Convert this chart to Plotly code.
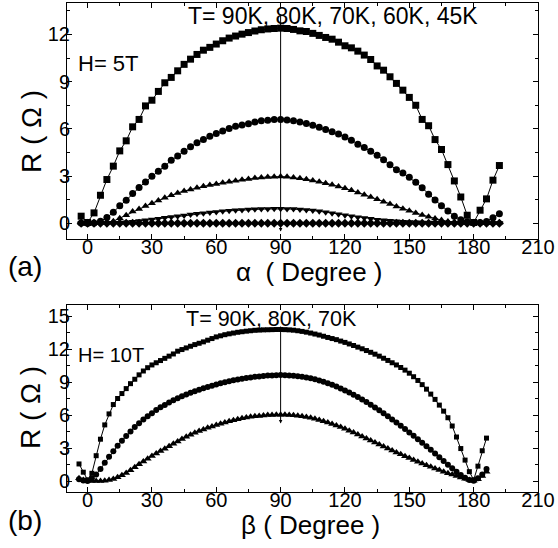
import plotly.graph_objects as go

# ---------------- data: panel (a), H = 5 T ----------------
alpha = list(range(-3, 193, 3))  # measurement angles, degrees

R_90K_a = [0.45, 0.05, 0.66, 1.78, 2.78, 3.63, 4.6, 5.24, 6.13, 6.6, 7.46, 7.82, 8.38, 8.93, 9.27, 9.69,
           10.1, 10.43, 10.73, 11.0, 11.18, 11.39, 11.6, 11.77, 11.9, 12.02, 12.12, 12.22, 12.3, 12.35,
           12.38, 12.4, 12.38, 12.32, 12.23, 12.19, 12.07, 11.94, 11.81, 11.7, 11.51, 11.28, 11.15,
           10.94, 10.69, 10.41, 10.0, 9.73, 9.31, 8.89, 8.46, 8.0, 7.5, 6.6, 6.2, 5.32, 4.69, 3.73,
           2.69, 1.67, 0.51, 0.05, 0.83, 1.55, 2.74, 3.67]
R_80K_a = [0.02, 0.0, 0.02, 0.13, 0.36, 0.7, 1.12, 1.46, 1.89, 2.27, 2.63, 2.99, 3.31, 3.63, 4.0, 4.28,
           4.58, 4.86, 5.11, 5.32, 5.53, 5.7, 5.87, 6.02, 6.17, 6.25, 6.32, 6.43, 6.51, 6.55, 6.6, 6.6,
           6.57, 6.51, 6.43, 6.34, 6.23, 6.11, 5.96, 5.81, 5.68, 5.49, 5.28, 5.02, 4.81, 4.58, 4.32,
           4.04, 3.72, 3.4, 3.2, 2.92, 2.6, 2.25, 1.85, 1.48, 1.12, 0.78, 0.45, 0.22, 0.1, 0.05, 0.05,
           0.12, 0.35, 0.6]
R_70K_a = [0.0, 0.0, 0.0, 0.02, 0.06, 0.13, 0.32, 0.51, 0.74, 0.91, 1.1, 1.27, 1.44, 1.62, 1.78, 1.93,
           2.05, 2.15, 2.25, 2.35, 2.43, 2.5, 2.58, 2.64, 2.7, 2.76, 2.82, 2.87, 2.91, 2.94, 2.96, 2.97,
           2.95, 2.91, 2.86, 2.79, 2.72, 2.64, 2.55, 2.45, 2.34, 2.22, 2.1, 1.96, 1.82, 1.67, 1.52,
           1.37, 1.22, 1.06, 0.92, 0.79, 0.66, 0.53, 0.41, 0.3, 0.2, 0.12, 0.07, 0.04, 0.02, 0.01,
           0.01, 0.02, 0.03, 0.05]
R_60K_a = [0.0, 0.0, 0.0, 0.0, 0.01, 0.02, 0.04, 0.07, 0.1, 0.14, 0.19, 0.24, 0.29, 0.35, 0.4, 0.45,
           0.5, 0.55, 0.6, 0.64, 0.68, 0.72, 0.76, 0.79, 0.82, 0.85, 0.87, 0.89, 0.9, 0.91, 0.92, 0.92,
           0.91, 0.9, 0.88, 0.85, 0.81, 0.76, 0.7, 0.64, 0.57, 0.51, 0.45, 0.39, 0.33, 0.28, 0.23,
           0.19, 0.16, 0.13, 0.1, 0.08, 0.06, 0.05, 0.04, 0.03, 0.03, 0.02, 0.02, 0.02, 0.02, 0.02,
           0.02, 0.02, 0.02, 0.02]
R_45K_a = [0.0, 0.0, 0.0, 0.0, 0.0, 0.0, 0.0, 0.0, 0.0, 0.0, 0.0, 0.0, 0.0, 0.0, 0.0, 0.0,
           0.0, 0.0, 0.0, 0.0, 0.0, 0.0, 0.0, 0.0, 0.0, 0.0, 0.0, 0.0, 0.0, 0.0, 0.0, 0.0,
           0.0, 0.0, 0.0, 0.0, 0.0, 0.0, 0.0, 0.0, 0.0, 0.0, 0.0, 0.0, 0.0, 0.0, 0.0,
           0.0, 0.0, 0.0, 0.0, 0.0, 0.0, 0.0, 0.0, 0.0, 0.0, 0.0, 0.0, 0.0, 0.0, 0.0,
           0.0, 0.0, 0.0, 0.0]

# ---------------- data: panel (b), H = 10 T ----------------
beta = list(range(-4, 187, 2))  # measurement angles, degrees

R_90K_b = [1.55, 0.8, 0.1, 0.7, 2.3, 3.8, 5.1, 6.1, 6.95, 7.5,
           7.95, 8.4, 8.85, 9.25, 9.65, 10.0, 10.3, 10.55, 10.75, 10.95,
           11.15, 11.35, 11.55, 11.8, 11.95, 12.1, 12.25, 12.4, 12.52, 12.65,
           12.8, 12.95, 13.1, 13.2, 13.3, 13.38, 13.45, 13.52, 13.57, 13.62,
           13.66, 13.7, 13.72, 13.74, 13.75, 13.76, 13.77, 13.77, 13.76, 13.74,
           13.71, 13.66, 13.6, 13.53, 13.45, 13.36, 13.27, 13.16, 13.05, 12.95,
           12.85, 12.72, 12.6, 12.46, 12.32, 12.17, 12.02, 11.86, 11.7, 11.53,
           11.35, 11.16, 10.96, 10.75, 10.55, 10.32, 10.08, 9.8, 9.48, 9.14,
           8.76, 8.35, 7.9, 7.42, 6.9, 6.35, 5.75, 5.0, 4.0, 2.95,
           1.9, 0.85, 0.1, 1.35, 2.75, 3.9]
R_80K_b = [0.15, 0.05, 0.0, 0.25, 0.6, 1.1, 1.65, 2.2, 2.7, 3.2,
           3.65, 4.08, 4.5, 4.9, 5.25, 5.58, 5.88, 6.17, 6.45, 6.7,
           6.92, 7.14, 7.34, 7.52, 7.7, 7.86, 8.02, 8.17, 8.3, 8.43,
           8.55, 8.67, 8.78, 8.88, 8.98, 9.07, 9.15, 9.23, 9.3, 9.36,
           9.42, 9.47, 9.51, 9.55, 9.58, 9.6, 9.62, 9.63, 9.62, 9.6,
           9.57, 9.53, 9.48, 9.42, 9.34, 9.25, 9.14, 9.02, 8.89, 8.74,
           8.58, 8.41, 8.23, 8.04, 7.84, 7.63, 7.41, 7.18, 6.94, 6.69,
           6.43, 6.16, 5.88, 5.6, 5.31, 5.02, 4.72, 4.42, 4.11, 3.8,
           3.48, 3.16, 2.83, 2.5, 2.16, 1.82, 1.48, 1.15, 0.83, 0.55,
           0.3, 0.1, 0.03, 0.25, 0.6, 1.1]
R_70K_b = [0.25, 0.1, 0.03, 0.0, 0.0, 0.0, 0.02, 0.08, 0.18, 0.33,
           0.52, 0.73, 0.98, 1.25, 1.52, 1.78, 2.03, 2.27, 2.5, 2.72,
           2.94, 3.16, 3.38, 3.6, 3.82, 4.02, 4.2, 4.38, 4.54, 4.69,
           4.83, 4.96, 5.08, 5.2, 5.32, 5.43, 5.53, 5.62, 5.7, 5.77,
           5.83, 5.88, 5.92, 5.96, 5.99, 6.01, 6.02, 6.03, 6.02, 6.0,
           5.97, 5.93, 5.88, 5.82, 5.74, 5.65, 5.55, 5.44, 5.32, 5.19,
           5.05, 4.9, 4.74, 4.57, 4.4, 4.22, 4.04, 3.86, 3.68, 3.5,
           3.32, 3.14, 2.96, 2.78, 2.6, 2.43, 2.26, 2.09, 1.92, 1.76,
           1.6, 1.44, 1.29, 1.14, 0.99, 0.85, 0.71, 0.58, 0.45, 0.32,
           0.2, 0.08, 0.03, 0.15, 0.45, 0.85]

# marker positions of the vertical arrows (angle, top, bottom)
arrow_a = (90, 13.35, -0.53)
arrow_b = (90, 14.18, 5.23)

FONT = "Liberation Sans, Arial, sans-serif"
W, H = 558, 548

fig = go.Figure()

series_a = [(R_90K_a, "square"), (R_80K_a, "circle"), (R_70K_a, "triangle-up"),
            (R_60K_a, "triangle-down"), (R_45K_a, "diamond")]
for vals, sym in series_a:
    fig.add_trace(go.Scatter(x=alpha, y=vals, mode="lines+markers", xaxis="x", yaxis="y",
                             line=dict(color="black", width=1),
                             marker=dict(symbol=sym, size=7, color="black"),
                             showlegend=False, hoverinfo="skip"))

series_b = [(R_90K_b, "square", 5), (R_80K_b, "circle", 6), (R_70K_b, "triangle-up", 7)]
for vals, sym, sz in series_b:
    fig.add_trace(go.Scatter(x=beta, y=vals, mode="lines+markers", xaxis="x2", yaxis="y2",
                             line=dict(color="black", width=1),
                             marker=dict(symbol=sym, size=sz, color="black"),
                             showlegend=False, hoverinfo="skip"))

axis_common = dict(showline=True, linecolor="black", linewidth=1, mirror="ticks",
                   ticks="inside", ticklen=5, tickwidth=1, tickcolor="black",
                   showgrid=False, zeroline=False,
                   tickfont=dict(family=FONT, size=20, color="black"),
                   minor=dict(ticks="inside", ticklen=3, tickwidth=1, tickcolor="black", showgrid=False))

xdom = [67 / W, 538 / W]
fig.update_layout(
    width=W, height=H, margin=dict(l=0, r=0, t=0, b=0, autoexpand=False),
    paper_bgcolor="white", plot_bgcolor="white",
    xaxis=dict(domain=xdom, range=[-9.6, 210], tick0=0, dtick=30, anchor="y", **axis_common),
    yaxis=dict(domain=[1 - 239 / H, 1 - 3 / H], range=[-1, 14], tick0=0, dtick=3, anchor="x",
               **axis_common),
    xaxis2=dict(domain=xdom, range=[-9.6, 210], tick0=0, dtick=30, anchor="y2", **axis_common),
    yaxis2=dict(domain=[1 - 492 / H, 1 - 305 / H], range=[-1, 16], tick0=0, dtick=3, anchor="x2",
                **axis_common),
)
fig.update_xaxes(minor_dtick=15, ticklabelstandoff=-10)
fig.update_yaxes(minor_dtick=1.5, ticklabelstandoff=-8)


def px(p):
    return p / W


def py(p):
    return 1 - p / H


def txt(text, x, y, size, xanchor="center", angle=0):
    fig.add_annotation(text=text, x=px(x), y=py(y), xref="paper", yref="paper",
                       xanchor=xanchor, yanchor="middle", showarrow=False, textangle=angle,
                       font=dict(family=FONT, size=size, color="black"))


txt("T= 90K, 80K, 70K, 60K, 45K", 186, 16, 23, xanchor="left")
txt("H= 5T", 76, 63, 22, xanchor="left")
txt("(a)", 25, 266, 28)
txt("\u03b1  ( Degree )", 309, 272, 26)
txt("R ( \u03a9 )", 31, 132, 28, angle=-90)

txt("T= 90K, 80K, 70K", 184, 319, 21.5, xanchor="left")
txt("H= 10T", 76, 355, 20, xanchor="left")
txt("(b)", 25, 520, 28)
txt("\u03b2 ( Degree )", 310, 525, 26)
txt("R ( \u03a9 )", 30, 408, 28, angle=-90)

for (xv, top, bot), xr, yr in [(arrow_a, "x", "y"), (arrow_b, "x2", "y2")]:
    fig.add_annotation(x=xv, y=bot, ax=xv, ay=top, xref=xr, yref=yr, axref=xr, ayref=yr,
                       text="", showarrow=True, arrowhead=2, arrowsize=0.7, arrowwidth=1,
                       arrowcolor="black", standoff=0, startstandoff=0)

fig.write_html(
    "out.html",
    config={"responsive": False, "displayModeBar": False},
    post_script="document.body.style.margin='0';document.body.style.padding='0';"
                "document.body.style.overflow='hidden';"
                "document.documentElement.style.overflow='hidden';",
)
